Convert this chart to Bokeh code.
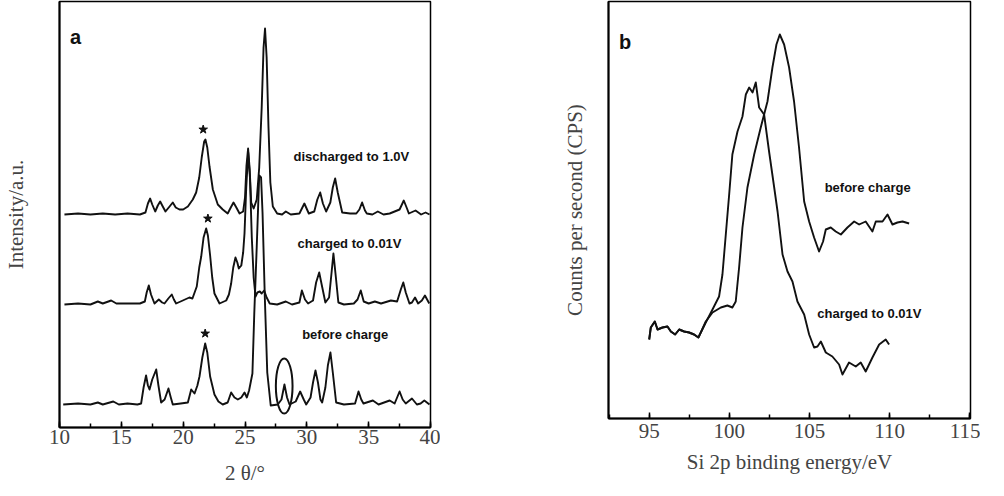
from bokeh.plotting import figure
from bokeh.layouts import row
from bokeh.models import Range1d, SingleIntervalTicker, FixedTicker
from bokeh.core.properties import value
from bokeh.embed import file_html
from bokeh.resources import INLINE

# ---------------- Panel a: XRD patterns (offset, a.u.) ----------------
disch_x = [10.4, 11.5, 12.5, 13.5, 14.5, 15.5, 16.5, 16.95, 17.15, 17.33, 17.5, 17.74, 17.95, 18.14,
           18.35, 18.57, 18.9, 19.16, 19.4, 19.7, 20.0, 20.38, 20.78, 21.05, 21.3, 21.5, 21.7, 21.8,
           21.95, 22.13, 22.4, 22.8, 23.2, 23.6, 23.85, 24.07, 24.3, 24.56, 24.85, 25.0, 25.12, 25.25,
           25.38, 25.5, 25.7, 25.95, 26.15, 26.35, 26.5, 26.62, 26.75, 26.9, 27.05, 27.25, 27.6, 28.0,
           28.3, 28.7, 29.4, 29.8, 30.16, 30.6, 30.85, 31.08, 31.3, 31.56, 31.9, 32.1, 32.29, 32.5,
           32.86, 33.5, 34.0, 34.25, 34.47, 34.7, 34.85, 35.3, 35.74, 36.2, 36.7, 37.1, 37.5, 37.84,
           38.1, 38.25, 38.79, 39.24, 39.6, 39.92]
disch_y = [213, 214, 213, 214, 213, 214, 213, 215, 224, 229, 223, 216, 222, 226,
           221, 216, 221, 225, 220, 218, 218, 221, 228, 235, 250, 270, 286, 288,
           280, 261, 238, 223, 218, 214, 220, 225, 220, 214, 216, 230, 262, 279,
           258, 225, 219, 228, 260, 320, 380, 399, 370, 300, 245, 221, 214, 213,
           216, 213, 214, 224, 214, 216, 228, 235, 224, 216, 225, 240, 249, 235,
           215, 214, 214, 218, 225, 217, 214, 213, 216, 213, 214, 216, 218, 227,
           219, 214, 217, 213, 215, 213]

charged_x = [10.4, 11.5, 12.5, 13.1, 13.5, 14.18, 14.6, 15.5, 16.5, 16.9, 17.05, 17.22, 17.4, 17.68,
             18.03, 18.3, 18.49, 18.8, 19.08, 19.25, 19.43, 19.97, 20.5, 20.75, 21.1, 21.3, 21.46,
             21.65, 21.86, 22.0, 22.18, 22.35, 22.53, 22.94, 23.48, 23.7, 23.88, 24.05, 24.23, 24.38,
             24.5, 24.7, 24.85, 24.96, 25.1, 25.26, 25.4, 25.55, 25.7, 25.85, 26.0, 26.2, 26.35,
             26.55, 26.75, 27.0, 27.6, 28.3, 28.8, 29.4, 29.6, 29.85, 30.1, 30.5, 30.75, 31.0, 31.25,
             31.5, 31.8, 32.0, 32.15, 32.35, 32.55, 33.0, 33.8, 34.1, 34.36, 34.6, 35.0, 35.5, 36.0,
             36.8, 37.3, 37.6, 37.8, 38.0, 38.3, 38.5, 38.75, 39.0, 39.3, 39.55, 39.9]
charged_y = [123, 124, 123, 126, 124, 127, 124, 124, 124, 126, 135, 142, 133, 124,
             128, 125, 124, 129, 133, 128, 124, 127, 130, 129, 141, 160, 171,
             190, 199, 192, 172, 150, 134, 124, 127, 133, 144, 160, 170, 165,
             159, 162, 175, 194, 240, 275, 250, 190, 150, 131, 135, 136, 134,
             137, 130, 124, 123, 126, 123, 125, 137, 128, 124, 127, 145, 155, 140,
             125, 130, 155, 174, 150, 125, 123, 124, 128, 137, 126, 124, 126, 124,
             127, 126, 138, 145, 135, 124, 125, 130, 124, 127, 132, 124]

before_x = [10.3, 11.5, 12.5, 13.1, 13.5, 14.35, 14.8, 15.5, 16.3, 16.6, 16.8, 17.0, 17.15, 17.28,
            17.5, 17.82, 18.0, 18.22, 18.5, 18.81, 19.0, 19.16, 19.8, 20.38, 20.65, 20.92, 21.15,
            21.32, 21.55, 21.78, 21.95, 22.18, 22.53, 22.85, 23.2, 23.6, 23.88, 24.15, 24.42, 24.7,
            24.96, 25.15, 25.33, 25.6, 25.75, 25.95, 26.15, 26.3, 26.42, 26.6, 26.8, 27.08, 27.65,
            27.95, 28.19, 28.4, 28.6, 29.1, 29.46, 29.75, 29.95, 30.3, 30.5, 30.7, 30.9, 31.1, 31.24,
            31.5, 31.7, 31.91, 32.1, 32.37, 33.0, 33.9, 34.18, 34.4, 34.58, 35.34, 35.8, 36.7, 37.1,
            37.5, 37.75, 38.0, 38.5, 38.9, 39.2, 39.5, 39.92]
before_y = [23, 24, 23, 25, 23, 26, 23, 24, 23, 24, 40, 52, 42, 38,
            48, 58, 42, 25, 28, 39, 30, 23, 24, 25, 38, 34, 42,
            51, 70, 84, 75, 51, 33, 26, 23, 25, 35, 30, 28, 30,
            35, 30, 37, 54, 114, 181, 252, 250, 214, 131, 55, 22, 23,
            28, 43, 30, 23, 26, 36, 28, 23, 30, 45, 57, 45, 28, 25,
            40, 62, 75, 55, 25, 23, 24, 36, 28, 24, 27, 23, 27, 24,
            36, 28, 24, 29, 23, 24, 27, 23]

star_x = [21.62, 22.0, 21.78]
star_y = [298, 209, 94]

xrd_label_x = [33.6, 33.45, 33.1]
xrd_label_y = [271, 184, 93]
xrd_labels = ["discharged to 1.0V", "charged to 0.01V", "before charge"]

circle_x = [28.17]
circle_y = [41.5]
circle_w = [1.35]
circle_h = [55]

# ---------------- Panel b: Si 2p XPS ----------------
xps_charged_e = [95.00, 95.10, 95.35, 95.52, 95.83, 96.14, 96.35, 96.62, 96.87, 97.18, 97.49, 97.80,
                 98.07, 98.22, 98.53, 98.95, 99.36, 99.57, 99.78, 99.99, 100.19, 100.51, 100.82,
                 101.03, 101.24, 101.45, 101.65, 101.86, 102.17, 102.48, 102.80, 103.01, 103.32,
                 103.63, 103.94, 104.25, 104.67, 104.98, 105.29, 105.5, 105.71, 106.02, 106.43,
                 106.85, 107.06, 107.47, 107.89, 108.2, 108.51, 108.93, 109.35, 109.76, 109.97]
xps_charged_cps = [79, 91, 97, 89, 91, 92, 87, 84, 89, 87, 86, 84,
                   81, 86, 96, 109, 122, 144, 184, 224, 264, 287, 302,
                   324, 331, 326, 336, 311, 304, 267, 231, 207, 164,
                   147, 137, 117, 104, 84, 71, 72, 77, 66, 62,
                   54, 44, 56, 52, 56, 47, 61, 74, 79, 74]

xps_before_e = [95.00, 95.10, 95.35, 95.52, 95.83, 96.14, 96.35, 96.62, 96.87, 97.18, 97.49, 97.80,
                98.07, 98.22, 98.53, 98.95, 99.47, 99.88, 100.19, 100.4, 100.61, 100.82, 101.13,
                101.55, 101.96, 102.38, 102.69, 102.94, 103.15, 103.42, 103.73, 104.04, 104.35,
                104.67, 104.98, 105.29, 105.6, 105.85, 106.02, 106.33, 106.64, 106.96, 107.37,
                107.79, 108.1, 108.51, 108.93, 109.14, 109.56, 109.87, 110.18, 110.49, 110.81, 111.22]
xps_before_cps = [79, 91, 97, 89, 91, 92, 87, 84, 89, 87, 86, 84,
                  81, 86, 97, 106, 111, 113, 111, 117, 151, 191, 231,
                  264, 291, 317, 351, 374, 384, 374, 351, 317, 271,
                  217, 197, 181, 167, 177, 189, 191, 187, 184, 191,
                  197, 194, 197, 187, 197, 197, 204, 194, 196, 197, 195]

xps_label_x = [108.63, 108.74]
xps_label_y = [231, 105]
xps_labels = ["before charge", "charged to 0.01V"]

SERIF = "Liberation Serif"
SANS = "Liberation Sans"
INK = "#111111"


def style(p, xlabel, ylabel, y_standoff, x_standoff, tick_standoff):
    p.background_fill_color = "white"
    p.border_fill_color = "white"
    p.outline_line_color = "black"
    p.outline_line_width = 1.5
    p.xgrid.visible = False
    p.ygrid.visible = False
    ax = p.xaxis[0]
    ax.ticker = SingleIntervalTicker(interval=5, num_minor_ticks=2)
    ax.axis_label = xlabel
    ax.axis_label_text_font = SERIF
    ax.axis_label_text_font_style = "normal"
    ax.axis_label_text_font_size = "21px"
    ax.axis_label_standoff = x_standoff
    ax.major_label_text_font = SERIF
    ax.major_label_text_font_size = "21px"
    ax.major_label_standoff = tick_standoff
    ax.axis_line_width = 2
    ax.major_tick_in = 6
    ax.major_tick_out = 0
    ax.minor_tick_in = 4
    ax.minor_tick_out = 0
    ax.major_tick_line_width = 1.5
    ax.minor_tick_line_width = 1.5
    ay = p.yaxis[0]
    ay.ticker = FixedTicker(ticks=[])
    ay.major_tick_in = 0
    ay.major_tick_out = 0
    ay.minor_tick_in = 0
    ay.minor_tick_out = 0
    ay.axis_line_width = 2
    ay.axis_label = ylabel
    ay.axis_label_text_font = SERIF
    ay.axis_label_text_font_style = "normal"
    ay.axis_label_text_font_size = "21px"
    ay.axis_label_standoff = y_standoff


# Panel a  (frame: 371 x 426 px, generous bottom border so the frame never shrinks)
p1 = figure(width=440, height=1 + 426 + 100, output_backend="svg", toolbar_location=None,
            x_range=Range1d(10, 40), y_range=Range1d(0, 426),
            min_border_left=59, min_border_right=10, min_border_top=1, min_border_bottom=100)
style(p1, "2 θ/°", "Intensity/a.u.", 32, 14, 2)
for xs, ys in [(disch_x, disch_y), (charged_x, charged_y), (before_x, before_y)]:
    p1.line(xs, ys, line_color=INK, line_width=1.9, line_join="round")
p1.scatter(star_x, star_y, marker="star", size=9, color=INK)
p1.text(xrd_label_x, xrd_label_y, text=xrd_labels, text_font=value(SANS), text_font_style="bold",
        text_font_size="13px", text_align="center", text_baseline="middle", text_color=INK)
p1.ellipse(circle_x, circle_y, width=circle_w, height=circle_h, fill_alpha=0,
           line_color=INK, line_width=2)
p1.text([11.3], [391], text=["a"], text_font=value(SANS), text_font_style="bold",
        text_font_size="20px", text_align="center", text_baseline="middle", text_color=INK)

# Panel b  (frame: 362 x 417 px)
p2 = figure(width=540, height=1 + 417 + 100, output_backend="svg", toolbar_location=None,
            x_range=Range1d(92.46, 115.05), y_range=Range1d(0, 417),
            min_border_left=168, min_border_right=10, min_border_top=1, min_border_bottom=100)
style(p2, "Si 2p binding energy/eV", "Counts per second (CPS)", 22, 9, 5)
p2.line(xps_before_e, xps_before_cps, line_color=INK, line_width=1.9, line_join="round")
p2.line(xps_charged_e, xps_charged_cps, line_color=INK, line_width=1.9, line_join="round")
p2.text(xps_label_x, xps_label_y, text=xps_labels, text_font=value(SANS), text_font_style="bold",
        text_font_size="13px", text_align="center", text_baseline="middle", text_color=INK)
p2.text([93.5], [377], text=["b"], text_font=value(SANS), text_font_style="bold",
        text_font_size="20px", text_align="center", text_baseline="middle", text_color=INK)

layout = row(p1, p2)
open("out.html", "w").write(file_html(layout, INLINE))
